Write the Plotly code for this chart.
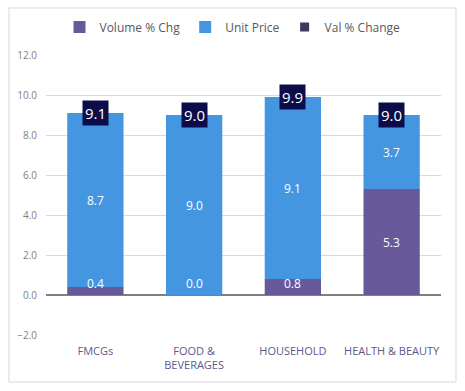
import plotly.graph_objects as go

categories = ["FMCGs", "FOOD &<br>BEVERAGES", "HOUSEHOLD", "HEALTH & BEAUTY"]
volume_chg = [0.4, 0.0, 0.8, 5.3]
unit_price = [8.7, 9.0, 9.1, 3.7]
val_change = [9.1, 9.0, 9.9, 9.0]
y_ticks = [-2, 0, 2, 4, 6, 8, 10, 12]

C_VOL = "#67599a"
C_UP = "#4496e0"
C_VAL = "#3b3a5c"
C_BOX = "#0c0c4a"
FONT = "Open Sans"

fig = go.Figure()
fig.add_bar(name="Volume % Chg", x=categories, y=volume_chg, marker_color=C_VOL,
            marker_line_width=0)
fig.add_bar(name="Unit Price", x=categories, y=unit_price, marker_color=C_UP,
            marker_line_width=0)
fig.add_scatter(name="Val % Change", x=categories, y=val_change, mode="markers",
                marker=dict(symbol="square", size=9, color=C_VAL))

ann = []
for c, v, u, t in zip(categories, volume_chg, unit_price, val_change):
    ann.append(dict(x=c, y=max(v / 2, 0.6), text=f"{v:.1f}", showarrow=False,
                    font=dict(color="white", size=12, family=FONT)))
    ann.append(dict(x=c, y=v + u / 2, text=f"{u:.1f}", showarrow=False,
                    font=dict(color="white", size=12, family=FONT)))
    ann.append(dict(x=c, y=t, text=f"{t:.1f}", showarrow=False, bgcolor=C_BOX,
                    borderpad=2, font=dict(color="white", size=15, family=FONT)))

fig.update_layout(
    width=465, height=391,
    margin=dict(l=46, r=24, t=55, b=56, autoexpand=False),
    barmode="relative", bargap=0.43,
    plot_bgcolor="white", paper_bgcolor="white",
    font=dict(family=FONT),
    showlegend=True,
    legend=dict(orientation="h", xref="container", yref="container",
                x=0.5, xanchor="center", y=1 - 27 / 391, yanchor="middle",
                font=dict(size=12, color="#595959"),
                traceorder="normal"),
    annotations=ann,
    shapes=[dict(type="rect", xref="paper", yref="paper",
                 x0=-0.0937, x1=1.038, y0=-0.168, y1=1.168,
                 line=dict(color="#d9d9d9", width=1), layer="below")],
)
fig.update_yaxes(range=[-2, 12], tickvals=y_ticks, tickformat=".1f", automargin=False,
                 showgrid=True, gridcolor="#d9d9d9", gridwidth=1,
                 zeroline=True, zerolinecolor="#808080", zerolinewidth=2,
                 tickfont=dict(size=10, color="#7f7f7f"), ticks="", showline=False,
                 ticklabelstandoff=8)
fig.update_xaxes(tickfont=dict(size=11, color="#5e5889"), ticks="", showline=False,
                 automargin=False, ticklabelstandoff=8)

fig.write_html("out.html", config={"displayModeBar": False},
               post_script="document.body.style.margin='0';document.body.style.overflow='hidden';")
